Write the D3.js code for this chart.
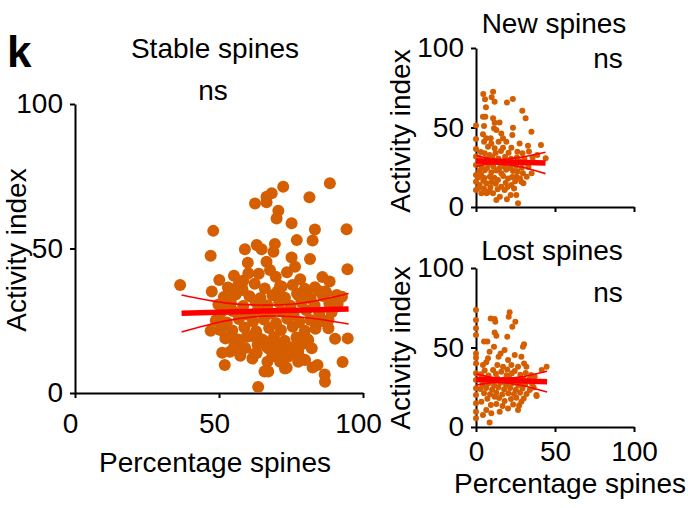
<!DOCTYPE html>
<html lang="en">
<head>
<meta charset="UTF-8">
<title>Activity index vs percentage spines</title>
<script src="https://d3js.org/d3.v7.min.js"></script>
<style>
    body { margin: 0; background: #fff; }
    svg { font-family: "Liberation Sans", Arial, sans-serif; }
</style>
</head>
<body>
<script>
// [percentage spines, activity index]
const stableSpines = [
    [88.5,72.6],[72.3,71.4],[68.3,69.1],[66.5,67.9],[66.5,66.0],[62.5,65.6],[81.4,67.7],[70.6,63.1],
    [70.0,60.4],[75.2,58.7],[83.3,56.6],[94.3,56.7],[48.0,56.1],[77.0,52.9],[82.5,52.8],[59.0,49.7],
    [63.1,51.2],[64.8,49.7],[69.4,51.6],[68.9,48.9],[47.1,47.5],[60.0,45.1],[75.2,46.9],[76.4,43.7],
    [81.6,46.4],[94.6,42.8],[36.5,37.4],[50.1,39.1],[47.5,35.1],[60.2,41.4],[66.5,45.4],[67.7,42.6],
    [56.7,37.4],[71.8,36.8],[83.3,36.6],[87.2,34.8],[90.9,33.9],[92.7,33.3],[80.4,34.3],[47.1,21.5],
    [51.1,13.9],[52.0,9.7],[61.6,11.9],[66.8,10.8],[65.8,7.4],[63.6,2.1],[73.5,8.7],[78.1,11.4],
    [82.5,8.8],[84.2,9.7],[86.7,6.4],[86.8,3.9],[92.9,10.7],[90.3,18.8],[94.7,18.9],[88.0,25.3],
    [83.9,23.9],[79.3,20.1],[82.2,15.5],[79.1,11.7],[71.2,10.8],[74.1,12.6],[56.7,17.2],[53.8,14.3],
    [59.6,19.5],[64.2,18.9],[67.7,17.2],[73.5,14.3],
    [55.2,40.6],[58.5,38.9],[63.8,41.3],[69.7,40.2],[73.6,41.8],[78.2,39.4],[85.9,40.1],[88.4,38.6],
    [53.1,36.5],[58.2,35.6],[62.4,37.8],[65.9,36.2],[70.3,35.1],[75.6,37.4],[79.8,36.1],[84.6,35.3],
    [51.7,33.2],[55.8,34.1],[60.6,33.5],[64.4,32.9],[68.6,33.8],[72.9,33.0],[77.1,34.4],[81.8,32.7],[86.1,33.6],
    [49.8,30.6],[54.1,31.2],[58.4,30.1],[62.7,31.6],[66.8,30.4],[70.9,31.3],[74.8,30.2],[78.6,31.5],[83.2,30.4],[88.3,31.0],[91.2,30.8],
    [50.6,27.8],[54.8,28.4],[59.7,27.2],[63.5,28.7],[67.9,27.5],[71.6,28.3],[75.9,27.1],[80.3,28.6],[84.8,27.4],[89.1,27.9],
    [48.9,25.1],[52.7,24.4],[56.9,25.6],[61.8,24.7],[65.6,25.4],[69.8,24.2],[73.7,25.7],[77.9,24.6],[81.7,25.3],[86.4,24.8],
    [50.8,22.3],[54.6,21.6],[58.8,22.7],[62.9,21.4],[67.4,22.5],[71.5,21.8],[75.6,22.9],[79.8,21.5],[83.5,22.2],
    [52.9,19.1],[56.6,18.5],[61.2,19.7],[65.3,18.3],[69.1,19.4],[72.8,18.1],[76.9,19.2],[80.7,18.6],
    [55.3,16.2],[59.1,15.6],[63.4,16.7],[67.2,15.4],[71.1,16.5],[75.3,15.8],[78.8,16.9],
    [57.4,12.9],[62.3,13.6],[68.5,12.7],[72.6,13.3],[77.2,12.8],
    [71.2,37.0],[86.8,35.1],[77.5,33.9],[87.4,24.7],[88.0,22.4],[81.0,18.3],[77.5,14.3],[79.9,11.4],
    [72.9,8.5],[67.1,7.4],[70.6,14.9],[77.5,10.8],[49.2,25.3],[50.4,21.8],[52.2,18.9],[53.2,32.2],
    [51.8,29.3],[55.5,34.5],[57.9,36.8],[60.8,27.0],[66.5,16.1],[63.1,13.8],[56.1,14.9]
];

const newSpines = [
    [0,51.2],[0,42.8],[0,36.5],[0,31.7],[0,26.4],[0,20.1],[0,15.9],[0,10.7],
    [4.6,71.1],[10.8,72.5],[5.7,67.7],[9.9,69.0],[11.8,66.2],[6.3,62.7],[19.6,65.8],[23.3,67.9],
    [29.3,60.6],[31.4,55.8],[35.1,47.4],[41.1,39.0],[44.1,30.6],[4.4,56.8],[5.9,56.8],[10.8,55.8],
    [11.8,53.0],[14.9,53.2],[5.1,50.9],[11.4,49.5],[12.9,48.4],[16.0,46.3],[23.4,49.9],[4.4,45.7],
    [6.5,43.2],[9.3,43.2],[17.1,43.2],[5.1,41.1],[9.7,40.0],[14.3,41.1],[19.2,41.1],[23.0,45.3],
    [27.6,40.0],[32.9,38.6],[7.6,37.9],[11.8,36.9],[17.1,37.3],[22.4,37.3],[26.2,34.8],[38.8,32.7],
    [5.5,33.8],[8.6,32.7],
    [12.9,4.4],[26.6,2.3],[3.4,8.6],[7.6,9.6],[10.8,8.6],[18.1,10.7],[21.9,7.5],[25.5,7.5],
    [16.0,12.8],[22.4,13.8],[28.7,15.9],[2.3,13.8],[6.5,14.9],[13.9,17.0],[20.3,18.0],[25.5,19.1],
    [3.4,20.1],[9.7,21.8],[16.0,21.2],[23.4,22.6],[29.7,21.2],[30.0,14.9],[32.1,19.1],[35.2,21.2],
    [3.1,34.6],[12.4,33.9],[15.8,35.2],[20.6,34.1],[29.4,33.8],[33.5,34.9],
    [2.2,30.8],[6.1,30.2],[10.3,31.4],[14.2,30.5],[18.4,31.6],[22.1,30.3],[25.9,31.1],[30.6,30.4],[35.8,31.2],
    [1.8,27.6],[4.9,28.4],[8.2,27.2],[12.0,28.6],[15.6,27.5],[19.3,28.2],[23.5,27.4],[27.2,28.7],[31.8,27.9],[36.4,28.3],
    [3.6,25.0],[7.0,24.6],[10.9,25.5],[14.7,24.3],[18.2,25.2],[21.7,24.5],[25.4,25.8],[28.9,24.7],[33.2,25.1],
    [2.0,22.6],[5.6,23.1],[12.8,22.9],[19.1,23.4],[26.3,22.4],
    [1.4,18.6],[5.3,18.2],[8.8,19.0],[11.6,18.4],[17.2,19.5],[22.9,18.8],[27.8,18.1],
    [4.6,16.5],[9.8,15.8],[12.5,14.6],[18.8,15.3],[24.8,16.2],
    [1.6,11.9],[5.0,11.6],[9.1,12.4],[13.7,11.2],[19.9,12.5],[24.1,11.6],
    [6.7,8.6],[8.9,9.6],[15.1,6.4],[19.6,4.8]
];

const lostSpines = [
    [0,73.6],[0,67.3],[0,62.1],[0,57.9],[0,46.3],[0,43.6],[0,40.0],[0,33.8],[0,29.6],[0,24.3],
    [0,20.1],[0,14.9],[0,9.6],[0,5.5],
    [9.3,68.3],[11.8,67.9],[12.2,66.2],[21.3,72.1],[20.7,69.4],[24.9,66.2],[23.0,63.1],[11.8,59.5],
    [12.9,57.4],[19.8,56.8],[5.1,53.7],[7.2,53.7],[11.4,50.5],[30.4,52.0],[29.7,50.5],[8.6,47.4],
    [15.6,46.3],[18.1,48.4],[20.3,42.1],[24.5,45.3],[28.7,44.2],[14.3,44.2],[7.6,43.2],[4.4,39.0],
    [6.5,40.7],[13.5,39.0],[17.1,37.9],[22.4,39.0],[26.6,37.9],[31.9,37.9],[30.4,40.0],[10.8,35.8],
    [16.0,34.8],[24.5,35.2],[34.9,32.7],[37.1,31.7],[38.2,20.1],[34.0,23.3],[28.7,27.5],[44.7,37.9],
    [41.6,35.8],[38.4,19.5],
    [3.4,15.9],[6.5,10.7],[4.4,7.5],[8.6,2.9],[9.7,8.6],[15.0,9.6],[20.3,11.7],[26.6,10.7],
    [28.7,15.9],[18.1,16.4],[11.8,19.1],
    [3.2,33.1],[7.9,32.4],[12.6,33.5],[19.4,32.6],[22.7,33.8],[28.1,32.9],[31.5,34.0],
    [2.5,29.8],[5.8,30.5],[9.6,29.4],[13.4,30.6],[17.2,29.7],[21.0,30.8],[25.3,29.5],[29.8,30.3],[33.6,29.9],
    [4.1,26.6],[7.8,27.4],[11.5,26.3],[15.3,27.6],[19.0,26.5],[22.8,27.3],[26.7,26.4],[31.2,26.9],[35.5,27.2],
    [2.8,23.9],[6.4,24.5],[10.2,23.6],[14.1,24.8],[17.8,23.7],[21.6,24.6],[25.2,23.4],[29.4,24.2],
    [5.1,21.2],[8.9,20.6],[12.8,21.5],[16.6,20.4],[20.4,21.3],[24.0,20.7],[27.9,21.6],[32.0,20.8],
    [7.2,17.8],[14.6,18.2],[22.1,17.6],[25.5,18.4],[30.2,17.9],
    [9.4,13.8],[12.9,14.5],[16.8,13.2],[23.5,14.1],[27.3,13.5],
    [5.5,35.5],[19.8,36.2],[36.5,24.8]
];

// linear fit and 95% band
const stableFitX = [37, 95], stableFitY = [27.6, 29.1];
const stableBandX = [37, 52, 66, 80, 95];
const stableUpper = [33.9, 31.2, 30.4, 31.3, 34.4];
const stableLower = [21.1, 24.9, 26.6, 26.1, 23.9];

const newFitX = [0, 44], newFitY = [28.9, 27.6];
const newBandX = [0, 8, 15, 28, 44];
const newUpper = [32.4, 30.6, 30.0, 31.2, 34.4];
const newLower = [25.4, 27.0, 26.9, 25.3, 21.0];

const lostFitX = [0, 45], lostFitY = [29.8, 28.5];
const lostBandX = [0, 8, 16, 30, 45];
const lostUpper = [33.3, 31.6, 30.7, 31.7, 35.0];
const lostLower = [26.4, 27.6, 27.9, 26.0, 22.0];

const ticks = [0, 50, 100];

const svg = d3.select("body").append("svg")
    .attr("width", 688)
    .attr("height", 508);

const dotColor = "#d55e00";
const fontSize = 28;

function panel(opts) {
    const x = d3.scaleLinear().domain([0, 100]).range(opts.xr);
    const y = d3.scaleLinear().domain([0, 100]).range(opts.yr);
    const g = svg.append("g");

    const xAxis = g.append("g")
        .attr("transform", `translate(0,${opts.yr[0]})`)
        .call(d3.axisBottom(x).tickValues(ticks).tickSize(5).tickSizeOuter(0)
            .tickPadding(opts.xPad).tickFormat(opts.xLabels ? d3.format("d") : ""));
    xAxis.selectAll("text").attr("dx", opts.xdx || 0);

    g.append("g")
        .attr("transform", `translate(${opts.xr[0]},0)`)
        .call(d3.axisLeft(y).tickValues(ticks).tickSize(5).tickSizeOuter(0).tickPadding(opts.yPad));

    g.selectAll(".domain, .tick line").attr("stroke", "#000").attr("stroke-width", 2);
    g.selectAll(".tick text")
        .attr("fill", "#000")
        .style("font-size", fontSize + "px")
        .style("font-family", "Liberation Sans, Arial, sans-serif");

    g.append("g").selectAll("circle")
        .data(opts.data)
        .join("circle")
        .attr("cx", d => x(d[0]))
        .attr("cy", d => y(d[1]))
        .attr("r", opts.r)
        .attr("fill", dotColor);

    const band = d3.line().x(d => x(d[0])).y(d => y(d[1])).curve(d3.curveNatural);
    [opts.upper, opts.lower].forEach(vals => {
        g.append("path")
            .attr("d", band(opts.bandX.map((v, i) => [v, vals[i]])))
            .attr("fill", "none")
            .attr("stroke", "#ff0000")
            .attr("stroke-width", 1.6);
    });
    g.append("path")
        .attr("d", d3.line().x(d => x(d[0])).y(d => y(d[1]))(opts.fitX.map((v, i) => [v, opts.fitY[i]])))
        .attr("stroke", "#ff0000")
        .attr("stroke-width", 5.5);

    return { x, y, g };
}

panel({ data: stableSpines, xr: [75, 363], yr: [393, 104], r: 6, xPad: 15, yPad: 7, xdx: -5, xLabels: true,
    fitX: stableFitX, fitY: stableFitY, bandX: stableBandX, upper: stableUpper, lower: stableLower });
panel({ data: newSpines, xr: [476, 634], yr: [207, 48], r: 3, xPad: 9, yPad: 7, xLabels: false,
    fitX: newFitX, fitY: newFitY, bandX: newBandX, upper: newUpper, lower: newLower });
panel({ data: lostSpines, xr: [476, 634], yr: [427, 268], r: 3, xPad: 9, yPad: 7, xLabels: true,
    fitX: lostFitX, fitY: lostFitY, bandX: lostBandX, upper: lostUpper, lower: lostLower });

// labels
function label(txt, x, y, rotate) {
    const t = svg.append("text")
        .attr("text-anchor", "middle")
        .attr("fill", "#000")
        .style("font-size", fontSize + "px")
        .text(txt);
    if (rotate) t.attr("transform", `translate(${x},${y}) rotate(-90)`);
    else t.attr("x", x).attr("y", y);
    return t;
}

svg.append("text").attr("x", 7).attr("y", 67)
    .style("font-size", "44px").style("font-weight", "bold").text("k");

label("Stable spines", 215, 58);
label("ns", 213, 100);
label("Activity index", 26, 250, true);
label("Percentage spines", 215, 472);

label("New spines", 554, 33);
label("ns", 608, 68);
label("Activity index", 410, 131, true);

label("Lost spines", 552, 260);
label("ns", 608, 302);
label("Activity index", 410, 348, true);
label("Percentage spines", 570, 493);
</script>
</body>
</html>
